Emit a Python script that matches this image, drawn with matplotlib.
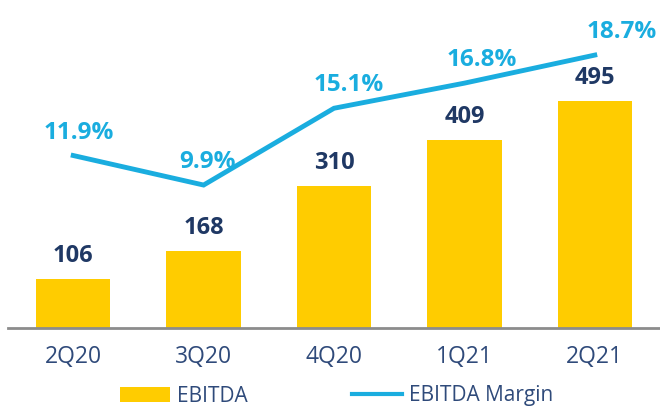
import matplotlib
matplotlib.use("Agg")
import matplotlib.pyplot as plt
from matplotlib.lines import Line2D
from matplotlib.patches import Patch

plt.rcParams['font.family'] = ['Open Sans', 'DejaVu Sans']

quarters = ["2Q20", "3Q20", "4Q20", "1Q21", "2Q21"]
ebitda = [106, 168, 310, 409, 495]
margin = [11.9, 9.9, 15.1, 16.8, 18.7]

BAR_COLOR = "#FFCC00"
LINE_COLOR = "#1AADDF"
NAVY = "#1F3864"
TICK_COLOR = "#2F4A7A"

# small nudges (pixels) for the margin labels, as in the original slide
label_dx = [6, 4, 15, 17, 27]

fig = plt.figure(figsize=(6.6, 4.07), dpi=100)
ax = fig.add_axes([8 / 660, 79 / 407, 652 / 660, 328 / 407])
x = list(range(len(quarters)))

ax.bar(x, ebitda, width=0.57, color=BAR_COLOR, zorder=2)
ax.set_xlim(-0.5, 4.5)
ax.set_ylim(0, 715)
for xi, v in zip(x, ebitda):
    ax.annotate(f"{v}", (xi, v), xytext=(0, 23), textcoords="offset pixels",
                ha="center", va="center", fontsize=17, fontweight="bold", color=NAVY)

for s in ["top", "right", "left"]:
    ax.spines[s].set_visible(False)
ax.spines["bottom"].set_color("#8C8C8C")
ax.spines["bottom"].set_linewidth(2)
ax.set_yticks([])
ax.set_xticks(x)
ax.set_xticklabels(quarters, fontsize=16.5, color=TICK_COLOR)
ax.tick_params(axis="x", length=0, pad=12)

ax2 = ax.twinx()
ax2.set_ylim(0.22, 22.43)
ax2.plot(x, margin, color=LINE_COLOR, linewidth=3.5, solid_joinstyle="miter", zorder=3)
for xi, v, dx in zip(x, margin, label_dx):
    ax2.annotate(f"{v:.1f}%", (xi, v), xytext=(dx, 23), textcoords="offset pixels",
                 ha="center", va="center", fontsize=17.5, fontweight="bold", color=LINE_COLOR)
ax2.axis("off")

handles = [Patch(facecolor=BAR_COLOR, edgecolor="none", label="EBITDA"),
           Line2D([0], [0], color=LINE_COLOR, linewidth=3, label="EBITDA Margin")]
fig.legend(handles=handles, loc="center", bbox_to_anchor=(0.51, 1 - 396 / 407), ncol=2,
           frameon=False, fontsize=15, handlelength=2.4, handleheight=0.75,
           columnspacing=5.0, handletextpad=0.35, labelcolor=TICK_COLOR)

fig.savefig("out.png", dpi=100)
